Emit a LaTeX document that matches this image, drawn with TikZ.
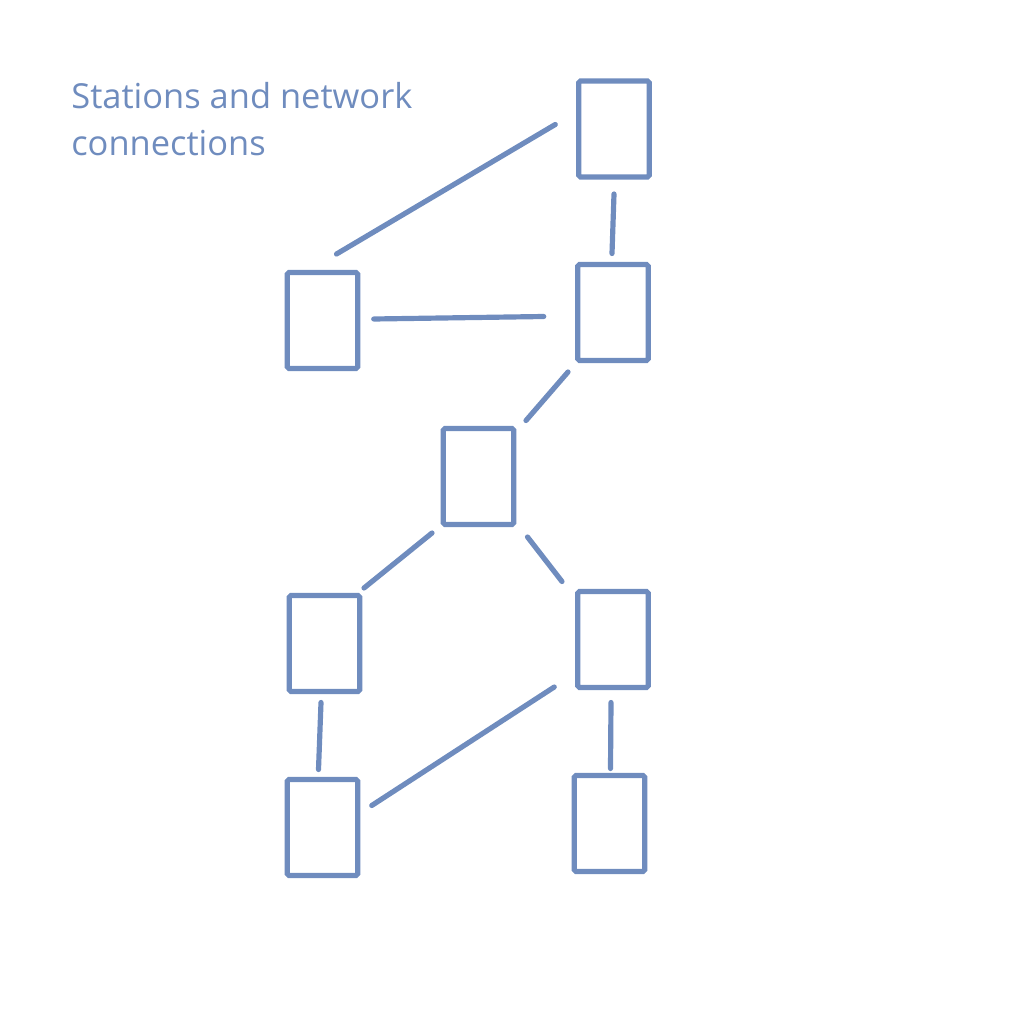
\documentclass[tikz,border=0pt]{standalone}
\usepackage{fontspec}
\setmainfont{Open Sans}
\usepackage{xcolor}
\usepackage{tikz}
\definecolor{netblue}{RGB}{111,140,190}

\begin{document}
\begin{tikzpicture}[x=0.02cm,y=-0.02cm,
 station/.style={draw=netblue,line width=2.95pt,rounded corners=1pt,
  minimum width=1.41cm,minimum height=1.92cm,inner sep=0pt,outer sep=0pt},
 link/.style={draw=netblue,line width=2.95pt,line cap=round}]
 \useasboundingbox (0,0) rectangle (1024,1024);

 \node[anchor=base west,align=left,inner sep=0pt,text=netblue,font=\fontsize{19.6}{27}\selectfont]
  (title) at (71,155.5) {Stations and network\\connections};

 \node[station] (st1) at (614,129) {};
 \node[station] (st2) at (613,312.5) {};
 \node[station] (st3) at (322.5,320.5) {};
 \node[station] (st4) at (478.5,476.5) {};
 \node[station] (st5) at (324.5,643.5) {};
 \node[station] (st6) at (613,639.5) {};
 \node[station] (st7) at (322.5,827.5) {};
 \node[station] (st8) at (609.5,823.5) {};

 \path[link]
  ([shift={(14,-18.5)}]st3.north) edge ([shift={(-23.5,-4.5)}]st1.west)
  ([shift={(0,17)}]st1.south) edge ([shift={(-1,-11)}]st2.north)
  ([shift={(16,-1.5)}]st3.east) edge ([shift={(-34,4)}]st2.west)
  ([shift={(-45,11.5)}]st2.south) edge ([shift={(47.5,-8)}]st4.north)
  ([shift={(-46.5,8.5)}]st4.south) edge ([shift={(39.5,-7.5)}]st5.north)
  ([shift={(49,12.5)}]st4.south) edge ([shift={(-51,-10)}]st6.north)
  ([shift={(-3.5,11)}]st5.south) edge ([shift={(-4,-10)}]st7.north)
  ([shift={(-23.5,-0.5)}]st6.south west) edge ([shift={(14,-22)}]st7.east)
  ([shift={(-2,15)}]st6.south) edge ([shift={(1,-7)}]st8.north);
\end{tikzpicture}
\end{document}
